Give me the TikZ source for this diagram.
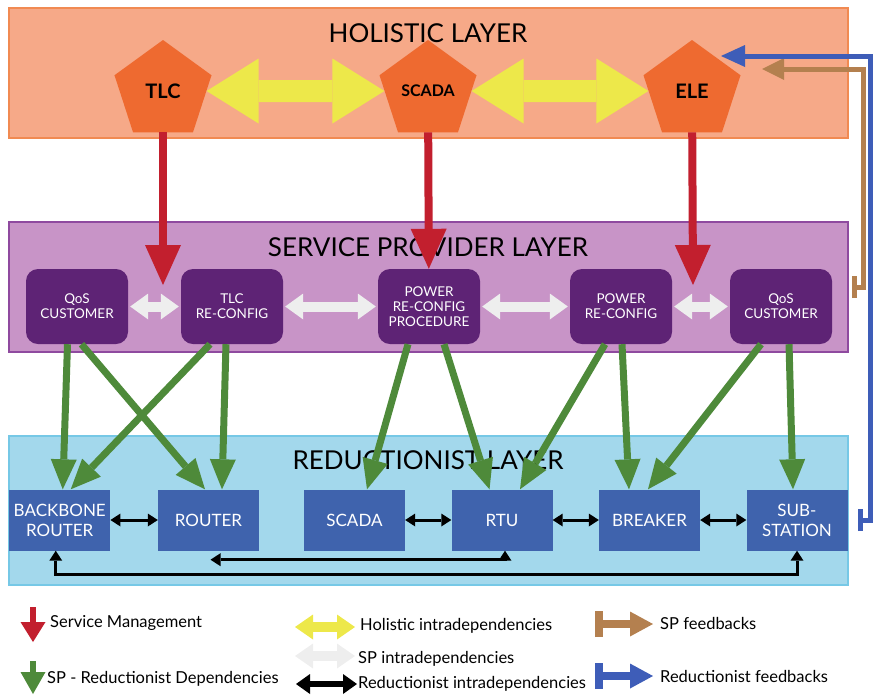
\documentclass[tikz,border=0pt]{standalone}
\usepackage{fontspec}
\setmainfont{Lato}
\usetikzlibrary{arrows.meta,shapes.geometric,positioning}

\definecolor{holfill}{HTML}{F6A988}
\definecolor{holline}{HTML}{F18A52}
\definecolor{hubor}{HTML}{EE6A30}
\definecolor{yel}{HTML}{EDE84A}
\definecolor{mgred}{HTML}{C21F2E}
\definecolor{spfill}{HTML}{C894C7}
\definecolor{spline}{HTML}{8F4A9F}
\definecolor{spdark}{HTML}{5E2375}
\definecolor{spwhite}{HTML}{EEEEEE}
\definecolor{rdfill}{HTML}{A3D8EC}
\definecolor{rdline}{HTML}{76C8E6}
\definecolor{rdblue}{HTML}{3F63AD}
\definecolor{depgreen}{HTML}{4E8A3A}
\definecolor{fbbrown}{HTML}{B4804F}
\definecolor{fbblue}{HTML}{3E5DB8}

\begin{document}
\begin{tikzpicture}[x=1pt,y=-1pt,
	layer/.style={line width=1.5pt, minimum width=839pt, minimum height=130pt, inner sep=0pt},
	title/.style={font=\fontsize{26}{26}\selectfont},
	hub/.style={regular polygon, regular polygon sides=5, minimum size=102pt, inner sep=0pt, fill=hubor, font=\bfseries\fontsize{20}{20}\selectfont},
	spbox/.style={fill=spdark, rounded corners=12pt, minimum width=102pt, minimum height=75pt, text=white, align=center, font=\fontsize{13.5}{15}\selectfont},
	rdbox/.style={fill=rdblue, minimum width=101pt, minimum height=61pt, text=white, align=center, font=\fontsize{17}{20}\selectfont},
	legend/.style={anchor=west, inner sep=0pt, font=\fontsize{16.5}{16.5}\selectfont},
	holintra/.style={color=yel, line width=22pt, {Triangle[width=65pt,length=52pt,line width=0pt]}-{Triangle[width=65pt,length=52pt,line width=0pt]}},
	mgmt/.style={color=mgred, line width=8pt, -{Triangle[width=36pt,length=40pt,line width=0pt]}},
	spintra/.style={color=spwhite, line width=10pt, {Triangle[width=26pt,length=18pt,line width=0pt]}-{Triangle[width=26pt,length=18pt,line width=0pt]}, shorten <=2pt, shorten >=2pt},
	spdep/.style={color=depgreen, line width=7pt, -{Triangle[width=26pt,length=30pt,line width=0pt]}},
	rdintra/.style={color=black, line width=3pt, {Triangle[width=13pt,length=10pt,line width=0pt]}-{Triangle[width=13pt,length=10pt,line width=0pt]}},
	spfeed/.style={color=fbbrown, line width=5pt, {Bar[width=22pt]}-{Triangle[width=22pt,length=22pt,line width=0pt]}},
	rdfeed/.style={color=fbblue, line width=5pt, {Bar[width=22pt]}-{Triangle[width=22pt,length=24pt,line width=0pt]}}]
	\useasboundingbox (0,0) rectangle (874,694);

	% the three layers
	\node[layer, draw=holline, fill=holfill] (hol) at (428.5,73) {};
	\node[layer, draw=spline, fill=spfill] (spl) at (428.5,287) {};
	\node[layer, draw=rdline, fill=rdfill, minimum height=149pt] (red) at (428.5,510.5) {};
	\node[title] (holt) at (428,33) {HOLISTIC LAYER};
	\node[title] (splt) at (428,247) {SERVICE PROVIDER LAYER};
	\node[title] (redt) at (428,460) {REDUCTIONIST LAYER};

	% holistic hubs
	\node[hub] (tlc) at (163,91) {TLC};
	\node[hub, font=\bfseries\fontsize{16}{16}\selectfont] (scd) at (428,91) {SCADA};
	\node[hub] (ele) at (692,91) {ELE};

	% service provider blocks
	\node[spbox] (qosa) at (77,306.5) {QoS\\CUSTOMER};
	\node[spbox] (tlcrc) at (232,306.5) {TLC\\RE-CONFIG};
	\node[spbox] (prcp) at (429,306.5) {POWER\\RE-CONFIG\\PROCEDURE};
	\node[spbox] (pwrc) at (621,306.5) {POWER\\RE-CONFIG};
	\node[spbox] (qosb) at (781,306.5) {QoS\\CUSTOMER};

	% reductionist components
	\node[rdbox] (bbr) at (59.75,520) {BACKBONE\\ROUTER};
	\node[rdbox] (rtr) at (208.5,520) {ROUTER};
	\node[rdbox] (rscd) at (354.5,520) {SCADA};
	\node[rdbox] (rtu) at (502,520) {RTU};
	\node[rdbox] (brk) at (649.5,520) {BREAKER};
	\node[rdbox] (sub) at (797,520) {SUB-\\STATION};

	\coordinate (tlcin) at (163,285);
	\coordinate (elein) at (693,285);
	\coordinate (elefba) at (721,56);
	\coordinate (elefbb) at (762,69);

	\path[holintra] (tlc) edge (scd) (scd) edge (ele);
	\path[mgmt] (tlc) edge (tlcin) (scd) edge (prcp) (ele) edge (elein);
	\path[spintra]
	 (qosa) edge (tlcrc)
	 (tlcrc) edge (prcp)
	 (prcp) edge (pwrc)
	 (pwrc) edge (qosb);
	\path[spdep]
	 ([xshift=-9.5pt]qosa.south) edge ([xshift=3pt]bbr.north)
	 ([xshift=4.5pt]qosa.south) edge ([xshift=-3.5pt]rtr.north)
	 ([xshift=-22pt]tlcrc.south) edge ([xshift=11pt]bbr.north)
	 ([xshift=-6pt]tlcrc.south) edge ([xshift=13.5pt]rtr.north)
	 ([xshift=-21pt]prcp.south) edge ([xshift=12.5pt]rscd.north)
	 ([xshift=15pt]prcp.south) edge ([xshift=-12.5pt]rtu.north)
	 ([xshift=-16pt]pwrc.south) edge ([xshift=18pt]rtu.north)
	 ([xshift=1pt]pwrc.south) edge ([xshift=-20.5pt]brk.north)
	 ([xshift=-20pt]qosb.south) edge ([xshift=-1.5pt]brk.north)
	 ([xshift=8pt]qosb.south) edge ([xshift=-4pt]sub.north);
	\path[rdintra]
	 (bbr) edge (rtr)
	 (rscd) edge (rtu)
	 (rtu) edge (brk)
	 (brk) edge (sub);
	\draw[rdintra] ([xshift=2pt,yshift=-9pt]rtr.south) -- ([xshift=3pt,yshift=-9pt]rtu.south) -- ([xshift=3pt]rtu.south);
	\draw[rdintra] ([xshift=-4pt]bbr.south) -- ++(0,24) -| (sub.south);

	% feedback loops on the right
	\draw[spfeed] ([xshift=3pt]spl.east) -- ++(12,0) |- (elefbb);
	\draw[rdfeed] ([xshift=10pt]sub.east) -- ++(13,0) |- (elefba);

	% legend
	\draw[mgred, line width=6pt, -{Triangle[width=25pt,length=20pt,line width=0pt]}] (33,607) -- (33,642);
	\node[legend] (lmg) at (50,623) {Service Management};
	\draw[depgreen, line width=6pt, -{Triangle[width=25pt,length=22pt,line width=0pt]}] (33,661) -- (33,694);
	\node[legend] (ldep) at (47,679) {SP - Reductionist Dependencies};
	\draw[yel, line width=10pt, {Triangle[width=25pt,length=18pt,line width=0pt]}-{Triangle[width=25pt,length=18pt,line width=0pt]}] (295,627) -- (355,627);
	\node[legend] (lhol) at (360,626) {Holistic intradependencies};
	\draw[spwhite, line width=10pt, {Triangle[width=25pt,length=18pt,line width=0pt]}-{Triangle[width=25pt,length=18pt,line width=0pt]}] (295,656) -- (355,656);
	\node[legend] (lsp) at (358,659) {SP intradependencies};
	\draw[black, line width=6pt, {Triangle[width=20pt,length=14pt,line width=0pt]}-{Triangle[width=20pt,length=14pt,line width=0pt]}] (296,684) -- (357,684);
	\node[legend] (lrd) at (358,684) {Reductionist intradependencies};
	\draw[fbbrown, line width=8pt, {Bar[width=26pt]}-{Triangle[width=25pt,length=23pt,line width=0pt]}] (595,624) -- (653,624);
	\node[legend] (lspf) at (660,623) {SP feedbacks};
	\draw[fbblue, line width=8pt, {Bar[width=26pt]}-{Triangle[width=25pt,length=23pt,line width=0pt]}] (595,676) -- (653,676);
	\node[legend] (lrdf) at (660,676) {Reductionist feedbacks};
\end{tikzpicture}
\end{document}
